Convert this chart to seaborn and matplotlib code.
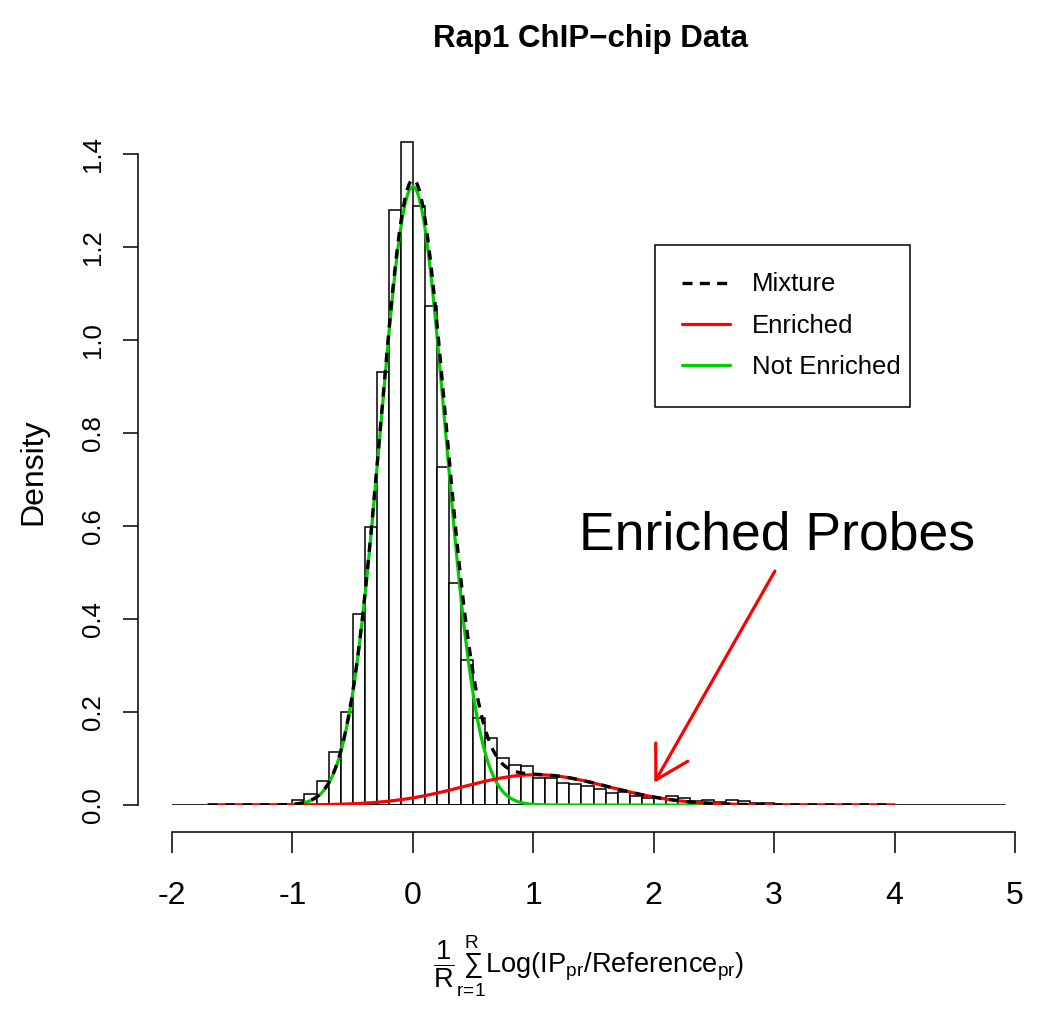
import matplotlib
matplotlib.use("Agg")
import matplotlib.pyplot as plt
from matplotlib.lines import Line2D
import numpy as np
import pandas as pd
import seaborn as sns

# Histogram of averaged log ratios, density scale, bins of 0.1 from -1.1 up
bin_start = -1.1
bin_width = 0.1
bin_density = [
    0.003, 0.011, 0.023, 0.052, 0.113, 0.199, 0.410, 0.598, 0.931, 1.280,
    1.426, 1.289, 1.073, 0.726, 0.477, 0.312, 0.187, 0.145, 0.101, 0.087,
    0.083, 0.057, 0.057, 0.048, 0.046, 0.040, 0.035, 0.026, 0.028, 0.020,
    0.016, 0.014, 0.019, 0.015, 0.008, 0.011, 0.007, 0.011, 0.008, 0.005,
    0.004,
]

# Two-component normal mixture
not_enriched = {"mean": 0.0, "sd": 0.27, "weight": 0.90}
enriched = {"mean": 1.02, "sd": 0.60, "weight": 0.098}
curve_from, curve_to = -1.7, 4.0
baseline_from, baseline_to = -2.0, 4.92

x_ticks = [-2, -1, 0, 1, 2, 3, 4, 5]
y_ticks = [0.0, 0.2, 0.4, 0.6, 0.8, 1.0, 1.2, 1.4]

RED = "#FF0000"
GREEN = "#00CD00"
FONT = "Liberation Sans"

sns.set_theme(style="white")
plt.rcParams["font.family"] = [FONT, "DejaVu Sans"]
plt.rcParams["axes.unicode_minus"] = False
plt.rcParams["mathtext.fontset"] = "custom"
plt.rcParams["mathtext.rm"] = FONT
plt.rcParams["mathtext.it"] = FONT
plt.rcParams["mathtext.bf"] = FONT + ":bold"
for key in ["text.color", "axes.labelcolor", "xtick.color", "ytick.color"]:
    plt.rcParams[key] = "black"


def normal_pdf(x, comp):
    z = (x - comp["mean"]) / comp["sd"]
    return comp["weight"] / (comp["sd"] * np.sqrt(2 * np.pi)) * np.exp(-0.5 * z * z)


fig = plt.figure(figsize=(10.5, 10.11), dpi=100)
W, H = 1050, 1011
ax_l, ax_r, ax_b, ax_t = 172, 1015, 805, 120
ax = fig.add_axes([ax_l / W, (H - ax_b) / H, (ax_r - ax_l) / W, (ax_b - ax_t) / H])

edges = [round(bin_start + bin_width * i, 2) for i in range(len(bin_density) + 1)]
hist_df = pd.DataFrame({
    "value": [round(e + bin_width / 2, 3) for e in edges[:-1]],
    "density": bin_density,
})
sns.histplot(data=hist_df, x="value", weights="density", bins=edges, stat="count",
             color="white", edgecolor="black", linewidth=1.1, alpha=1, ax=ax)

ax.plot([baseline_from, baseline_to], [0, 0], color="black", lw=1.2, zorder=3)

xs = np.linspace(curve_from, curve_to, 800)
ne = normal_pdf(xs, not_enriched)
en = normal_pdf(xs, enriched)
ax.plot(xs, ne, color=GREEN, lw=2.3, zorder=4)
ax.plot(xs, en, color=RED, lw=2.3, zorder=5)
ax.plot(xs, ne + en, color="black", lw=2.4, linestyle=(0, (2.8, 2.4)), zorder=6)

ax.set_xlim(-2, 5)
ax.set_ylim(0, (ax_b - ax_t) / 465)
ax.set_xticks(x_ticks)
ax.set_xticklabels([str(t) for t in x_ticks])
ax.set_yticks(y_ticks)
ax.set_yticklabels([f"{t:.1f}" for t in y_ticks])

for side in ["top", "right"]:
    ax.spines[side].set_visible(False)
ax.spines["left"].set_position(("outward", 24.5))
ax.spines["bottom"].set_position(("outward", 19.4))
ax.spines["left"].set_bounds(0, 1.4)
ax.spines["bottom"].set_bounds(-2, 5)
for side in ["left", "bottom"]:
    ax.spines[side].set_linewidth(1.1)
    ax.spines[side].set_color("black")

ax.tick_params(axis="x", direction="out", length=15, width=1.1,
               pad=20, labelsize=23, bottom=True)
ax.tick_params(axis="y", direction="out", length=10.8, width=1.1,
               pad=12.7, labelsize=18.5, labelrotation=90, left=True)
for lbl in ax.get_yticklabels():
    lbl.set_verticalalignment("center")

ax.set_ylabel("Density", fontsize=23, va="baseline")
ax.yaxis.set_label_coords((41.7 - ax_l) / (ax_r - ax_l), (ax_b - 472) / (ax_b - ax_t))
ax.set_xlabel(r"$\dfrac{1}{R}\sum_{r\!=\!1}^{R}\mathrm{Log}(\mathrm{IP}_{pr}/\mathrm{Reference}_{pr})$",
              fontsize=19.6, va="baseline")
ax.xaxis.set_label_coords((589 - ax_l) / (ax_r - ax_l), (ax_b - 973) / (ax_b - ax_t))

fig.text(590.5 / W, 1 - 47.3 / H, "Rap1 ChIP\u2212chip Data", ha="center", va="baseline",
         fontsize=22.5, fontweight="bold")

ax.annotate("", xy=(2.005, 0.048), xytext=(3.006, 0.503),
            arrowprops=dict(arrowstyle="->, head_length=1.0, head_width=0.577",
                            mutation_scale=23, color=RED, lw=2.3,
                            shrinkA=0, shrinkB=0))
ax.text(3.027, 0.550, "Enriched Probes", ha="center", va="baseline", fontsize=38.5)

handles = [
    Line2D([], [], color="black", lw=2.4, linestyle=(0, (3.0, 2.2))),
    Line2D([], [], color=RED, lw=2.3),
    Line2D([], [], color=GREEN, lw=2.3),
]
leg = ax.legend(handles, ["Mixture", "Enriched", "Not Enriched"],
                loc="upper left",
                bbox_to_anchor=(655 / W, (H - 410) / H, 255 / W, 165 / H),
                bbox_transform=fig.transFigure, borderaxespad=0, mode="expand",
                fontsize=18.5, handlelength=1.84, handletextpad=0.85,
                labelspacing=0.68, borderpad=1.07,
                fancybox=False, framealpha=1, edgecolor="black")
leg.get_frame().set_linewidth(1.1)

fig.savefig("out.png", dpi=100)
